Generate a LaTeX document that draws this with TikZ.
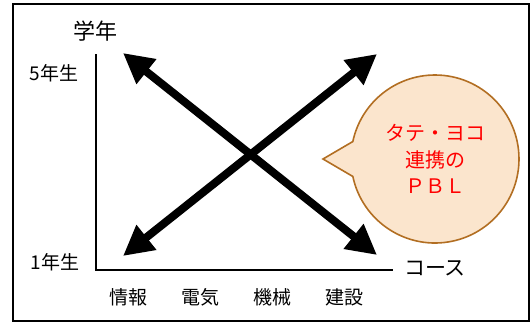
\documentclass[tikz,border=0pt]{standalone}
\usepackage{fontspec}
\setmainfont{Noto Sans CJK JP}
\usetikzlibrary{arrows.meta,shapes.callouts}
\definecolor{calloutfill}{HTML}{FBE5CD}
\definecolor{calloutdraw}{HTML}{B26E22}
\definecolor{callouttext}{HTML}{FF0000}
\begin{document}
\begin{tikzpicture}[x=1pt,y=-1pt,
  bigarrow/.style={line width=8pt,{Triangle[length=30pt,width=30pt]}-{Triangle[length=30pt,width=30pt]}},
  axis/.style={line width=1.8pt,black},
  lbl/.style={inner sep=0pt,font=\fontsize{19}{22}\selectfont},
  bubble/.style={ellipse callout,draw=calloutdraw,line width=1.6pt,fill=calloutfill,
    minimum width=168pt,minimum height=168pt,inner sep=0pt,callout pointer arc=24,
    text=callouttext,align=center,font=\fontsize{20}{26.5}\selectfont}]
\useasboundingbox (0,0) rectangle (531,322);
\draw[line width=1.6pt] (13,4) rectangle (529,321);
% axes
\coordinate (ytop) at (96,54);
\coordinate (origin) at (96,270);
\coordinate (xend) at (393,270);
\draw[axis] (ytop) -- (origin) -- (xend);
% labels
\node[lbl,font=\fontsize{22}{24}\selectfont] (gakunen) at (95,31) {学年};
\node[lbl] (nen5) at (54,73) {5年生};
\node[lbl] (nen1) at (55,262) {1年生};
\node[lbl,font=\fontsize{21}{24}\selectfont] (course) at (435,268) {コース};
\node[lbl] (jouhou) at (128,297) {情報};
\node[lbl] (denki) at (200,297) {電気};
\node[lbl] (kikai) at (272,297) {機械};
\node[lbl] (kensetsu) at (344,297) {建設};
% arrows
\coordinate (ll) at (123,256);
\coordinate (ur) at (377,54);
\coordinate (ul) at (123,53);
\coordinate (lr) at (377,255);
\draw[bigarrow] (ll) -- (ur);
\draw[bigarrow] (ul) -- (lr);
% callout
\coordinate (tip) at (323,159);
\node[bubble,callout absolute pointer={(tip)}] (pbl) at (435,159) {タテ・ヨコ\\連携の\\ＰＢＬ};
\end{tikzpicture}
\end{document}
